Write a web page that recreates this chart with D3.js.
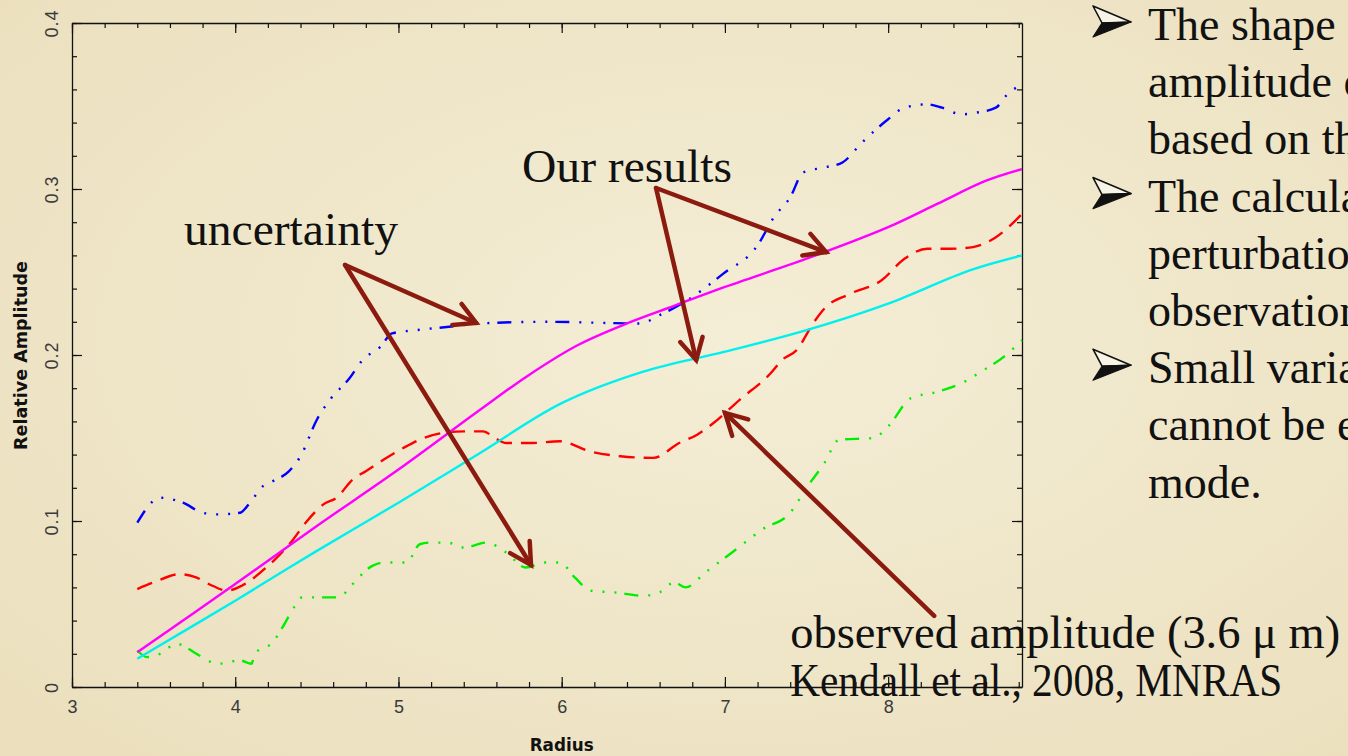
<!DOCTYPE html>
<meta charset="utf-8">
<style>
  body { margin: 0; overflow: hidden; background: #efe7ca; }
  svg { display: block; }
  .tick text { font-family: "Liberation Sans", Arial, sans-serif; font-size: 18px; fill: #3a3a3a; }
  .axis path, .axis line { stroke: #111; }
  .note { font-family: "Liberation Serif", "Times New Roman", serif; font-size: 46px; fill: #111; }
  .title { font-family: "DejaVu Sans", sans-serif; font-size: 17px; font-weight: bold; fill: #111; }
</style>
<body>
<script src="https://cdn.jsdelivr.net/npm/d3@7"></script>
<script>
  'use strict';

  // radius, relative amplitude
  const model1 = [[3.4,0.021],[4.0,0.062],[4.5,0.097],[5.0,0.131],[5.5,0.167],[5.8,0.188],[6.1,0.206],[6.4,0.219],[6.7,0.230],[7.0,0.241],[7.5,0.258],[8.0,0.277],[8.3,0.291],[8.6,0.305],[8.82,0.312]];
  const model2 = [[3.4,0.017],[4.0,0.052],[4.5,0.082],[5.0,0.111],[5.5,0.141],[6.0,0.171],[6.5,0.190],[7.0,0.202],[7.5,0.215],[8.0,0.231],[8.5,0.251],[8.82,0.260]];
  const observed = [[3.4,0.059],[3.5,0.063],[3.66,0.068],[3.76,0.066],[3.86,0.061],[3.95,0.058],[4.04,0.061],[4.19,0.072],[4.34,0.087],[4.44,0.100],[4.54,0.110],[4.62,0.114],[4.72,0.125],[4.80,0.130],[4.91,0.137],[5.03,0.144],[5.13,0.149],[5.27,0.153],[5.40,0.154],[5.52,0.154],[5.59,0.150],[5.66,0.147],[5.82,0.147],[5.99,0.148],[6.17,0.142],[6.36,0.139],[6.56,0.138],[6.72,0.147],[6.83,0.152],[6.93,0.159],[7.09,0.173],[7.28,0.189],[7.35,0.197],[7.44,0.203],[7.54,0.219],[7.61,0.228],[7.77,0.237],[7.96,0.245],[8.10,0.258],[8.24,0.264],[8.38,0.264],[8.52,0.265],[8.66,0.271],[8.77,0.280],[8.82,0.285]];
  const upper = [[3.4,0.099],[3.54,0.114],[3.68,0.111],[3.80,0.105],[3.89,0.104],[4.03,0.105],[4.09,0.111],[4.17,0.121],[4.23,0.124],[4.33,0.130],[4.40,0.139],[4.50,0.161],[4.58,0.173],[4.70,0.186],[4.78,0.197],[4.89,0.205],[4.96,0.213],[5.11,0.215],[5.31,0.217],[5.50,0.219],[5.90,0.220],[6.48,0.219],[6.60,0.224],[6.77,0.233],[6.99,0.249],[7.20,0.266],[7.30,0.283],[7.40,0.295],[7.48,0.310],[7.61,0.313],[7.72,0.316],[7.84,0.328],[8.00,0.342],[8.10,0.349],[8.24,0.351],[8.33,0.349],[8.45,0.345],[8.54,0.346],[8.66,0.349],[8.73,0.357],[8.82,0.363]];
  const lower = [[3.4,0.022],[3.46,0.018],[3.54,0.020],[3.64,0.026],[3.78,0.019],[3.89,0.014],[4.03,0.016],[4.10,0.014],[4.12,0.020],[4.23,0.027],[4.29,0.036],[4.36,0.048],[4.41,0.054],[4.52,0.054],[4.64,0.054],[4.70,0.060],[4.84,0.073],[4.91,0.075],[5.05,0.075],[5.13,0.086],[5.19,0.087],[5.30,0.087],[5.40,0.084],[5.54,0.087],[5.66,0.081],[5.78,0.072],[5.90,0.075],[5.99,0.075],[6.08,0.066],[6.18,0.058],[6.32,0.057],[6.50,0.055],[6.60,0.057],[6.69,0.063],[6.76,0.060],[6.88,0.069],[7.07,0.083],[7.23,0.095],[7.40,0.105],[7.50,0.120],[7.61,0.135],[7.70,0.149],[7.91,0.150],[8.00,0.157],[8.14,0.174],[8.31,0.178],[8.47,0.184],[8.57,0.190],[8.71,0.199],[8.82,0.209]];

  const xTicks = [3, 4, 5, 6, 7, 8];
  const yTicks = [0, 0.1, 0.2, 0.3, 0.4];

  // annotation arrows: [from, to] in data units
  const arrows = [
    [[4.673,0.2542],[5.476,0.2193]],
    [[4.673,0.2542],[5.812,0.0735]],
    [[6.578,0.3006],[7.620,0.2620]],
    [[6.578,0.3006],[6.824,0.1970]],
    [[8.282,0.0428],[7.001,0.1651]]
  ];
  const labels = [
    {text: "uncertainty", x: 3.686, y: 0.2663, w: 214},
    {text: "Our results", x: 5.757, y: 0.3042, w: 210},
    {text: "observed amplitude (3.6 \u03bc m)", x: 7.4, y: 0.0235, w: 550},
    {text: "Kendall et al., 2008, MNRAS", x: 7.4, y: -0.0054, w: 492}
  ];
  const bullets = [
    ["The shape of the", "amplitude of the", "based on the model"],
    ["The calculated", "perturbation of the", "observations of"],
    ["Small variations", "cannot be explained", "mode."]
  ];

  const W = 1348, H = 756;
  const x = d3.scaleLinear().domain([3, 8.82]).range([72, 1022]);
  const y = d3.scaleLinear().domain([0, 0.4]).range([687, 23]);

  const svg = d3.select("body").append("svg").attr("width", W).attr("height", H);

  const grad = svg.append("defs").append("radialGradient").attr("id", "paper")
      .attr("cx", "55%").attr("cy", "45%").attr("r", "75%");
  grad.append("stop").attr("offset", "0%").attr("stop-color", "#f4eed6");
  grad.append("stop").attr("offset", "100%").attr("stop-color", "#ebdfbd");
  svg.append("rect").attr("width", W).attr("height", H).attr("fill", "url(#paper)");

  // axes: major + minor ticks pointing inward on all four sides
  const xMinor = d3.range(3, 8.81, 0.2);
  const yMinor = d3.range(0, 0.401, 0.02);
  const noLab = () => "";

  svg.append("g").attr("class", "axis").attr("transform", `translate(0,${y(0)})`)
    .call(d3.axisBottom(x).tickValues(xMinor).tickSize(-5).tickSizeOuter(0).tickFormat(noLab));
  svg.append("g").attr("class", "axis").attr("transform", `translate(0,${y(0)})`)
    .call(d3.axisBottom(x).tickValues(xTicks).tickSize(-10).tickSizeOuter(0).tickPadding(13).tickFormat(d3.format("d")))
    .call(g => g.select(".domain").remove());
  svg.append("g").attr("class", "axis").attr("transform", `translate(0,${y(0.4)})`)
    .call(d3.axisTop(x).tickValues(xMinor).tickSize(-5).tickSizeOuter(0).tickFormat(noLab));
  svg.append("g").attr("class", "axis").attr("transform", `translate(0,${y(0.4)})`)
    .call(d3.axisTop(x).tickValues(xTicks).tickSize(-10).tickSizeOuter(0).tickFormat(noLab))
    .call(g => g.select(".domain").remove());

  svg.append("g").attr("class", "axis").attr("transform", `translate(${x(3)},0)`)
    .call(d3.axisLeft(y).tickValues(yMinor).tickSize(-5).tickSizeOuter(0).tickFormat(noLab));
  const yAx = svg.append("g").attr("class", "axis").attr("transform", `translate(${x(3)},0)`)
    .call(d3.axisLeft(y).tickValues(yTicks).tickSize(-10).tickSizeOuter(0).tickFormat(d => d === 0 ? "0" : d3.format(".1f")(d)))
    .call(g => g.select(".domain").remove());
  yAx.selectAll(".tick text")
    .attr("x", null)
    .attr("text-anchor", "middle")
    .attr("letter-spacing", 1)
    .attr("transform", "translate(-20,0) rotate(-90)")
    .attr("dy", "0.35em");
  svg.append("g").attr("class", "axis").attr("transform", `translate(${x(8.82)},0)`)
    .call(d3.axisRight(y).tickValues(yMinor).tickSize(-5).tickSizeOuter(0).tickFormat(noLab));
  svg.append("g").attr("class", "axis").attr("transform", `translate(${x(8.82)},0)`)
    .call(d3.axisRight(y).tickValues(yTicks).tickSize(-10).tickSizeOuter(0).tickFormat(noLab))
    .call(g => g.select(".domain").remove());
  svg.selectAll(".axis .tick line").attr("stroke-width", 1.2);
  svg.selectAll(".axis .domain").attr("stroke-width", 1.3);

  svg.append("text").attr("class", "title")
    .attr("x", x(6)).attr("y", 751).attr("text-anchor", "middle")
    .attr("textLength", 64).attr("lengthAdjust", "spacingAndGlyphs").text("Radius");
  svg.append("text").attr("class", "title")
    .attr("transform", `translate(27,${y(0.2) - 94}) rotate(-90)`)
    .attr("x", -189).attr("textLength", 189).attr("lengthAdjust", "spacingAndGlyphs")
    .text("Relative Amplitude");

  // curves
  const smooth = d3.line().x(d => x(d[0])).y(d => y(d[1])).curve(d3.curveCatmullRom);
  const rough = d3.line().x(d => x(d[0])).y(d => y(d[1])).curve(d3.curveMonotoneX);
  const dashDot3 = "14,10,2,10,2,10,2,8";
  const series = [
    {data: lower, color: "#00ee00", dash: dashDot3, line: rough},
    {data: upper, color: "#0000ff", dash: dashDot3, line: rough},
    {data: observed, color: "#ff0000", dash: "16,9", line: rough},
    {data: model2, color: "#00f0f0", dash: null, line: smooth},
    {data: model1, color: "#ff00ff", dash: null, line: smooth}
  ];
  svg.append("g").selectAll("path").data(series).join("path")
    .attr("d", d => d.line(d.data))
    .attr("fill", "none")
    .attr("stroke", d => d.color)
    .attr("stroke-width", 2.4)
    .attr("stroke-dasharray", d => d.dash);

  // annotation text and arrows
  svg.append("g").selectAll("text").data(labels).join("text")
    .attr("class", "note")
    .attr("x", d => x(d.x)).attr("y", d => y(d.y))
    .attr("textLength", d => d.w).attr("lengthAdjust", "spacingAndGlyphs")
    .text(d => d.text);

  const arrowColor = "#8c1b0f";
  const ag = svg.append("g").attr("stroke", arrowColor).attr("stroke-width", 4.5)
    .attr("stroke-linecap", "round").attr("fill", "none");
  arrows.forEach(([a, b]) => {
    const x1 = x(a[0]), y1 = y(a[1]), x2 = x(b[0]), y2 = y(b[1]);
    ag.append("line").attr("x1", x1).attr("y1", y1).attr("x2", x2).attr("y2", y2);
    const ang = Math.atan2(y2 - y1, x2 - x1), len = 24, spread = 0.5;
    const head = [ang + Math.PI - spread, ang + Math.PI + spread]
      .map(t => [x2 + len * Math.cos(t), y2 + len * Math.sin(t)]);
    ag.append("path").attr("stroke-linejoin", "miter")
      .attr("d", `M${head[0]}L${x2},${y2}L${head[1]}`);
  });

  // slide bullets (3-D arrowhead) and text on the right
  const bulletX = 1093, textX = 1148, firstBase = 40, step = 57.2;
  bullets.forEach((lines, i) => {
    const base = firstBase + i * 3 * step;
    const b = svg.append("g").attr("transform", `translate(${bulletX},${base - 34})`);
    b.append("path").attr("d", "M0,0L38,16L9,17Z")
      .attr("fill", "#f7f3e6").attr("stroke", "#111").attr("stroke-width", 1.6).attr("stroke-linejoin", "round");
    b.append("path").attr("d", "M9,17L38,16L0,31Z")
      .attr("fill", "#111").attr("stroke", "#111").attr("stroke-width", 1.2).attr("stroke-linejoin", "round");
    lines.forEach((t, j) => {
      svg.append("text").attr("class", "note")
        .attr("x", textX).attr("y", base + j * step).text(t);
    });
  });
</script>
</body>
